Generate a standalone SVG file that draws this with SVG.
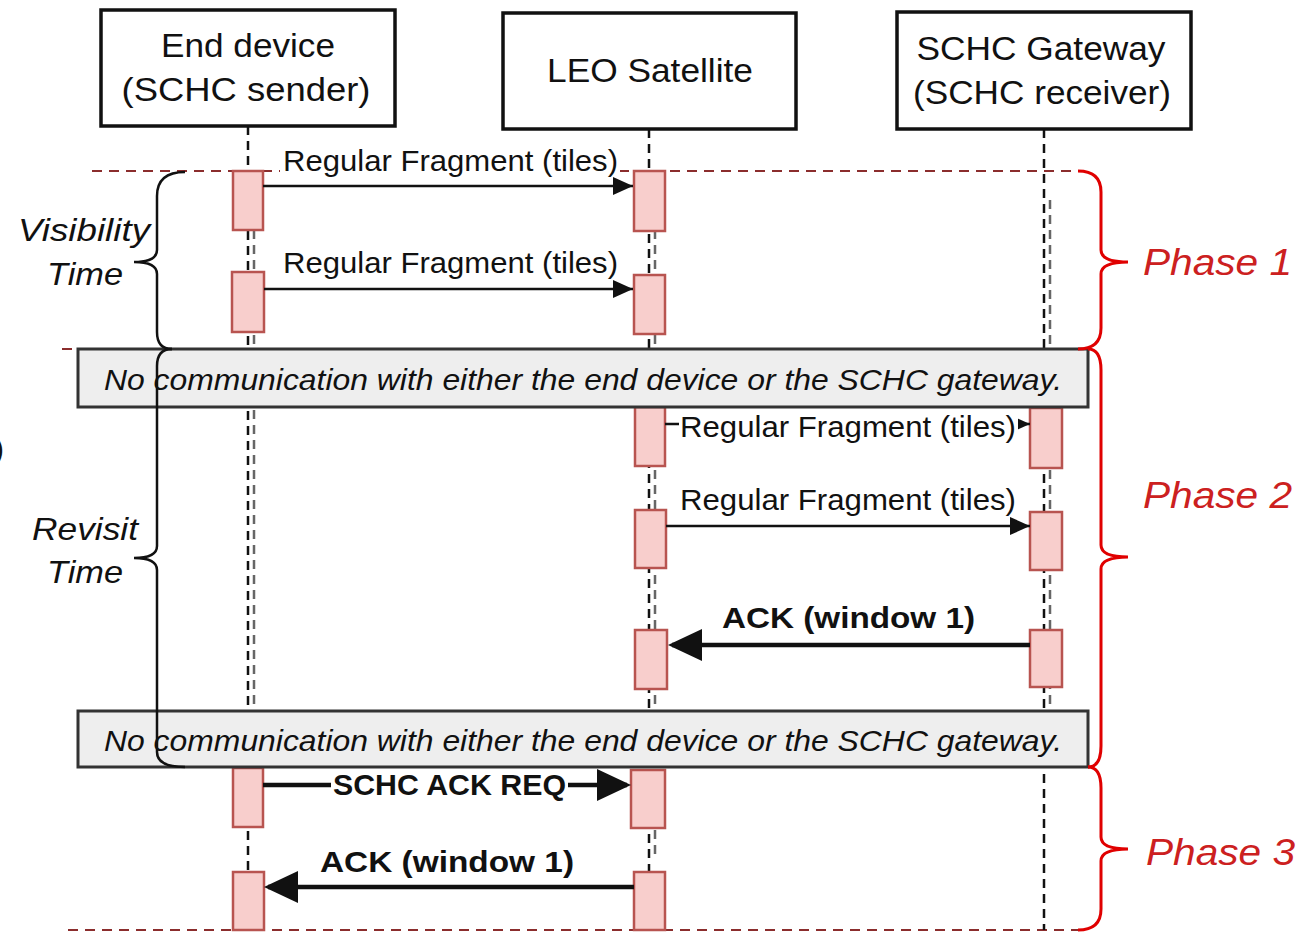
<svg xmlns="http://www.w3.org/2000/svg" width="1299" height="933" viewBox="0 0 1299 933">
<defs>
<style>
.hdr{fill:#fff;stroke:#111;stroke-width:3.5}
.ht{font-family:"Liberation Sans",Arial,sans-serif;font-size:34px;fill:#111;text-anchor:middle}
.life{stroke:#111;stroke-width:2.5;stroke-dasharray:9 6;fill:none}
.life2{stroke:#666;stroke-width:2.5;stroke-dasharray:9 6;fill:none}
.phl{stroke:#8b2d2d;stroke-width:2;stroke-dasharray:10 7;fill:none}
.act{fill:#f8cecc;stroke:#b85450;stroke-width:2.5}
.msg{stroke:#111;stroke-width:2.5;fill:none}
.msgb{stroke:#111;stroke-width:4.5;fill:none}
.lbl{font-family:"Liberation Sans",Arial,sans-serif;font-size:30px;fill:#111}
.lblb{font-family:"Liberation Sans",Arial,sans-serif;font-size:30px;font-weight:bold;fill:#111}
.bg{fill:#fff}
.gray{fill:#eeeeee;stroke:#333;stroke-width:3}
.gt{font-family:"Liberation Sans",Arial,sans-serif;font-size:30px;font-style:italic;fill:#111}
.brace{stroke:#111;stroke-width:2.5;fill:none}
.rbrace{stroke:#e00000;stroke-width:3;fill:none}
.side{font-family:"Liberation Sans",Arial,sans-serif;font-size:32px;font-style:italic;fill:#111;text-anchor:middle}
.ph{font-family:"Liberation Sans",Arial,sans-serif;font-size:36px;font-style:italic;fill:#cc2020}
</style>
<marker id="ah" markerUnits="userSpaceOnUse" markerWidth="22" markerHeight="18" refX="20" refY="9" orient="auto"><path d="M0,0 L20,9 L0,18 Z" fill="#111"/></marker>
<marker id="ahL" markerUnits="userSpaceOnUse" markerWidth="36" markerHeight="34" refX="30" refY="16" orient="auto"><path d="M0,0 L34,16 L0,32 Z" fill="#111"/></marker>
</defs>

<g id="phase-lines">
<line class="phl" x1="92" y1="171" x2="1078" y2="171"/>
<line class="phl" x1="62" y1="349" x2="1095" y2="349"/>
<line class="phl" x1="68" y1="930" x2="1078" y2="930"/>
</g>

<g id="lifelines">
<line class="life" x1="248" y1="126" x2="248" y2="930"/>
<line class="life2" x1="254" y1="230" x2="254" y2="767"/>
<line class="life" x1="649" y1="129" x2="649" y2="930"/>
<line class="life2" x1="655" y1="230" x2="655" y2="860"/>
<line class="life" x1="1044" y1="129" x2="1044" y2="930"/>
<line class="life2" x1="1050" y1="200" x2="1050" y2="767"/>
</g>

<g id="node-end-device">
<rect class="hdr" x="101" y="10" width="294" height="116"/>
<text class="ht" x="248" y="57" textLength="174" lengthAdjust="spacingAndGlyphs">End device</text>
<text class="ht" x="246" y="101" textLength="249" lengthAdjust="spacingAndGlyphs">(SCHC sender)</text>
</g>
<g id="node-leo">
<rect class="hdr" x="503" y="13" width="293" height="116"/>
<text class="ht" x="650" y="82" textLength="206" lengthAdjust="spacingAndGlyphs">LEO Satellite</text>
</g>
<g id="node-gateway">
<rect class="hdr" x="897" y="12" width="294" height="117"/>
<text class="ht" x="1041" y="60" textLength="249" lengthAdjust="spacingAndGlyphs">SCHC Gateway</text>
<text class="ht" x="1042" y="104" textLength="258" lengthAdjust="spacingAndGlyphs">(SCHC receiver)</text>
</g>

<g id="activations">
<rect class="act" x="233" y="171" width="30" height="59"/>
<rect class="act" x="232" y="272" width="32" height="60"/>
<rect class="act" x="233" y="768" width="30" height="59"/>
<rect class="act" x="233" y="872" width="31" height="58"/>
<rect class="act" x="634" y="171" width="31" height="60"/>
<rect class="act" x="634" y="275" width="31" height="59"/>
<rect class="act" x="635" y="407" width="30" height="59"/>
<rect class="act" x="635" y="510" width="31" height="58"/>
<rect class="act" x="635" y="630" width="32" height="59"/>
<rect class="act" x="631" y="770" width="34" height="58"/>
<rect class="act" x="634" y="872" width="31" height="58"/>
<rect class="act" x="1030" y="408" width="32" height="60"/>
<rect class="act" x="1030" y="512" width="32" height="58"/>
<rect class="act" x="1030" y="630" width="32" height="57"/>
</g>

<g id="connectors">
<line class="msg" x1="263" y1="186" x2="633" y2="186" marker-end="url(#ah)"/>
<line class="msg" x1="264" y1="289" x2="633" y2="289" marker-end="url(#ah)"/>
<line class="msg" x1="665" y1="424" x2="1030" y2="424" marker-end="url(#ah)"/>
<line class="msg" x1="666" y1="526" x2="1030" y2="526" marker-end="url(#ah)"/>
<line class="msgb" x1="1030" y1="645" x2="672" y2="645" marker-end="url(#ahL)"/>
<line class="msgb" x1="263" y1="785" x2="627" y2="785" marker-end="url(#ahL)"/>
<line class="msgb" x1="634" y1="887" x2="268" y2="887" marker-end="url(#ahL)"/>
</g>

<g id="labels">
<rect class="bg" x="280" y="147" width="340" height="29"/>
<text class="lbl" x="283" y="171" textLength="335" lengthAdjust="spacingAndGlyphs">Regular Fragment (tiles)</text>
<text class="lbl" x="283" y="273" textLength="335" lengthAdjust="spacingAndGlyphs">Regular Fragment (tiles)</text>
<rect class="bg" x="679" y="411" width="339" height="32"/>
<text class="lbl" x="680" y="437" textLength="336" lengthAdjust="spacingAndGlyphs">Regular Fragment (tiles)</text>
<text class="lbl" x="680" y="510" textLength="336" lengthAdjust="spacingAndGlyphs">Regular Fragment (tiles)</text>
<text class="lblb" x="722" y="628" textLength="253" lengthAdjust="spacingAndGlyphs">ACK (window 1)</text>
<rect class="bg" x="331" y="770" width="237" height="30"/>
<text class="lblb" x="333" y="795" textLength="233" lengthAdjust="spacingAndGlyphs">SCHC ACK REQ</text>
<text class="lblb" x="320" y="872" textLength="254" lengthAdjust="spacingAndGlyphs">ACK (window 1)</text>
</g>

<g id="no-comm-1">
<rect class="gray" x="78" y="349" width="1010" height="58"/>
<text class="gt" x="104" y="390" textLength="958" lengthAdjust="spacingAndGlyphs">No communication with either the end device or the SCHC gateway.</text>
</g>
<g id="no-comm-2">
<rect class="gray" x="78" y="711" width="1010" height="56"/>
<text class="gt" x="104" y="751" textLength="958" lengthAdjust="spacingAndGlyphs">No communication with either the end device or the SCHC gateway.</text>
</g>

<g id="visibility-time">
<path class="brace" d="M185 172 Q157 172 157 196 L157 250 Q157 262 134 262 Q157 262 157 274 L157 332 Q157 349 172 349"/>
<text class="side" x="84" y="241" textLength="132" lengthAdjust="spacingAndGlyphs">Visibility</text>
<text class="side" x="85" y="285" textLength="76" lengthAdjust="spacingAndGlyphs">Time</text>
</g>
<g id="revisit-time">
<path class="brace" d="M172 349 Q157 349 157 366 L157 546 Q157 558 134 558 Q157 558 157 570 L157 752 Q157 767 185 767"/>
<text class="side" x="85" y="540" textLength="106" lengthAdjust="spacingAndGlyphs">Revisit</text>
<text class="side" x="85" y="583" textLength="76" lengthAdjust="spacingAndGlyphs">Time</text>
</g>

<g id="phase-1">
<path class="rbrace" d="M1078 171 Q1101 171 1101 192 L1101 250 Q1101 262 1128 262 Q1101 262 1101 274 L1101 328 Q1101 349 1078 349"/>
<text class="ph" x="1143" y="275" textLength="149" lengthAdjust="spacingAndGlyphs">Phase 1</text>
</g>
<g id="phase-2">
<path class="rbrace" d="M1088 349 Q1101 349 1101 370 L1101 545 Q1101 557 1128 557 Q1101 557 1101 569 L1101 746 Q1101 767 1088 767"/>
<text class="ph" x="1143" y="508" textLength="149" lengthAdjust="spacingAndGlyphs">Phase 2</text>
</g>
<g id="phase-3">
<path class="rbrace" d="M1088 767 Q1101 767 1101 788 L1101 837 Q1101 849 1128 849 Q1101 849 1101 861 L1101 909 Q1101 930 1078 930"/>
<text class="ph" x="1146" y="865" textLength="149" lengthAdjust="spacingAndGlyphs">Phase 3</text>
</g>

<text class="lbl" x="-6" y="459">)</text>
</svg>
